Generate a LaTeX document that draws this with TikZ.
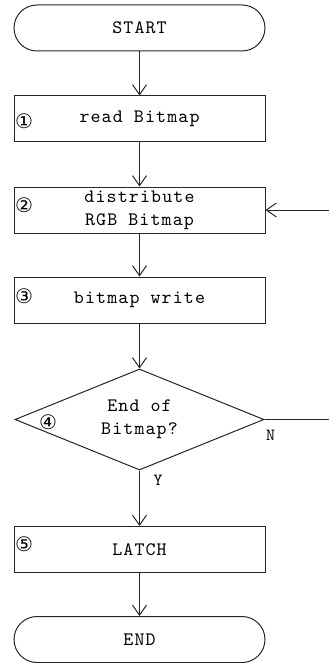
\documentclass[tikz,border=0pt]{standalone}
\usepackage{fontspec}
\newfontfamily\circfont{DejaVu Sans}
\newfontfamily\flowtt{lmmono10-regular.otf}[LetterSpace=6]
\newcommand{\flowfont}{\flowtt\fontsize{19}{23}\selectfont}
\usetikzlibrary{shapes.geometric,arrows.meta}

\begin{document}
\begin{tikzpicture}[x=1pt,y=1pt,>={Straight Barb[length=10pt,width=14pt]},
  line width=1pt,draw=black!85,
  term/.style={draw,rectangle,rounded corners=23pt,minimum width=251pt,minimum height=46pt,inner sep=0pt,font=\flowfont},
  proc/.style={draw,rectangle,minimum width=251pt,minimum height=46pt,inner sep=0pt,align=center,font=\flowfont},
  decide/.style={draw,diamond,shape aspect=2.5,minimum width=249pt,minimum height=101pt,inner sep=0pt,align=center,font=\flowfont},
  num/.style={inner sep=0pt,font=\circfont\fontsize{20}{20}\selectfont},
  lbl/.style={inner sep=0pt,font=\flowtt\fontsize{17}{17}\selectfont}]
\useasboundingbox (0,0) rectangle (329,-663);

\node[term] (start) at (139.5,-28) {START};
\node[proc] (read) at (139.5,-119) {read Bitmap};
\node[proc] (dist) at (139.5,-210) {distribute\\RGB Bitmap};
\node[proc] (write) at (139.5,-300) {bitmap write};
\node[decide] (endq) at (139.5,-419.5) {End of\\Bitmap?};
\node[proc] (latch) at (139.5,-549.5) {LATCH};
\node[term] (end) at (139.5,-639.5) {END};

\node[num] (n1) at (24,-121) {①};
\node[num] (n2) at (24,-205) {②};
\node[num] (n3) at (24,-296) {③};
\node[num] (n4) at (48,-422) {④};
\node[num] (n5) at (24,-544.5) {⑤};

\node[lbl] (ylbl) at (158,-480) {Y};
\node[lbl] (nlbl) at (270.5,-435) {N};

\coordinate (back) at (329,-210);
\coordinate (out) at (329,-419.5);

\draw[->] (start) -- (read);
\draw[->] (read) -- (dist);
\draw[->] (dist) -- (write);
\draw[->] (write) -- (endq);
\draw[->] (endq) -- (latch);
\draw[->] (latch) -- (end);
\draw[->] (back) -- (dist);
\draw (endq.east) -- (out);
\end{tikzpicture}
\end{document}
